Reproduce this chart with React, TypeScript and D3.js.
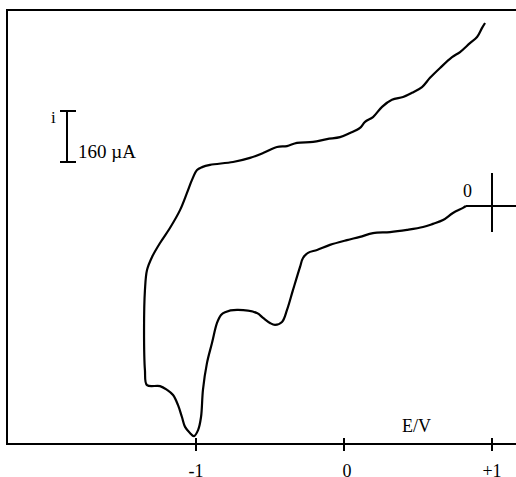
import React from "react";
import * as d3 from "d3";

// potential (V) and current (µA), in scan order
const potential = [
  0.824, 0.804, 0.736, 0.669, 0.601, 0.534, 0.426, 0.311, 0.196, 0.108,
  0.02, -0.095, -0.182, -0.243, -0.277, -0.297, -0.345, -0.385, -0.419, -0.466,
  -0.5, -0.547, -0.588, -0.723, -0.804, -0.831, -0.858, -0.892, -0.926, -0.953,
  -0.966, -0.986, -1.014, -1.041, -1.074, -1.095, -1.122, -1.155, -1.196, -1.243,
  -1.331, -1.345, -1.351, -1.345, -1.331, -1.297, -1.243, -1.176, -1.108, -1.061,
  -1.027, -0.993, -0.959, -0.905, -0.75, -0.635, -0.547, -0.453, -0.385, -0.318,
  -0.209, -0.115, -0.027, 0.041, 0.108, 0.142, 0.196, 0.257, 0.324, 0.399,
  0.459, 0.527, 0.581, 0.649, 0.73, 0.784, 0.851, 0.899, 0.932, 0.953,
];
const current = [
  0, -6, -22, -44, -56, -66, -75, -82, -85, -97,
  -107, -122, -138, -147, -163, -191, -264, -326, -364, -373,
  -367, -351, -336, -326, -333, -342, -367, -430, -493, -577,
  -662, -703, -722, -712, -693, -662, -624, -593, -577, -565,
  -562, -515, -389, -264, -201, -160, -116, -69, -13, 41,
  82, 113, 122, 129, 138, 151, 166, 185, 188, 198,
  201, 210, 216, 229, 245, 264, 279, 311, 333, 342,
  355, 373, 402, 433, 467, 483, 511, 530, 558, 574,
];
const tickValues = [-1, 0, 1];
const tickLabels = ["-1", "0", "+1"];
const scaleBar = 160; // µA

const font = "'Liberation Serif', 'Times New Roman', serif";

export default function App() {
  const width = 516;
  const height = 477;

  const x = d3.scaleLinear().domain([-1, 1]).range([196, 492]);
  const y = d3.scaleLinear().domain([0, scaleBar]).range([206, 155]);

  const pts: [number, number][] = potential.map((e, i) => [e, current[i]]);
  const line = d3
    .line<[number, number]>()
    .x((d) => x(d[0]))
    .y((d) => y(d[1]))
    .curve(d3.curveCatmullRom.alpha(0.5));

  const axisY = 444;
  const zeroY = y(0);
  const barShift = -44;

  return (
    <svg
      width={width}
      height={height}
      style={{ position: "absolute", left: 0, top: 0, background: "#fff" }}
      fontFamily={font}
    >
      {/* frame */}
      <line x1={7} y1={10} x2={width} y2={10} stroke="#000" strokeWidth={2} />
      <line x1={7} y1={9} x2={7} y2={axisY + 1} stroke="#000" strokeWidth={2} />
      <line x1={7} y1={axisY} x2={width} y2={axisY} stroke="#000" strokeWidth={2} />

      {/* ticks */}
      {tickValues.map((t, i) => (
        <g key={t}>
          <line x1={x(t)} y1={axisY - 6} x2={x(t)} y2={axisY + 7} stroke="#000" strokeWidth={2} />
          <text x={x(t) + (t === 0 ? 3 : 0)} y={477} textAnchor="middle" fontSize={18}>
            {tickLabels[i]}
          </text>
        </g>
      ))}
      <text x={402} y={432} fontSize={18}>E/V</text>

      {/* current scale bar */}
      <text x={51} y={123} fontSize={17}>i</text>
      <line x1={67} y1={y(scaleBar) + barShift} x2={67} y2={y(0) + barShift} stroke="#000" strokeWidth={2} />
      <line x1={60} y1={y(scaleBar) + barShift} x2={76} y2={y(scaleBar) + barShift} stroke="#000" strokeWidth={2} />
      <line x1={60} y1={y(0) + barShift} x2={76} y2={y(0) + barShift} stroke="#000" strokeWidth={2} />
      <text x={78} y={158} fontSize={19}>160 µA</text>

      {/* zero current marker */}
      <line x1={x(potential[0])} y1={zeroY} x2={width} y2={zeroY} stroke="#000" strokeWidth={2} />
      <line x1={492} y1={173} x2={492} y2={232} stroke="#000" strokeWidth={2} />
      <text x={463} y={197} fontSize={18}>0</text>

      <path d={line(pts) ?? ""} fill="none" stroke="#000" strokeWidth={2.2} strokeLinejoin="round" />
    </svg>
  );
}
